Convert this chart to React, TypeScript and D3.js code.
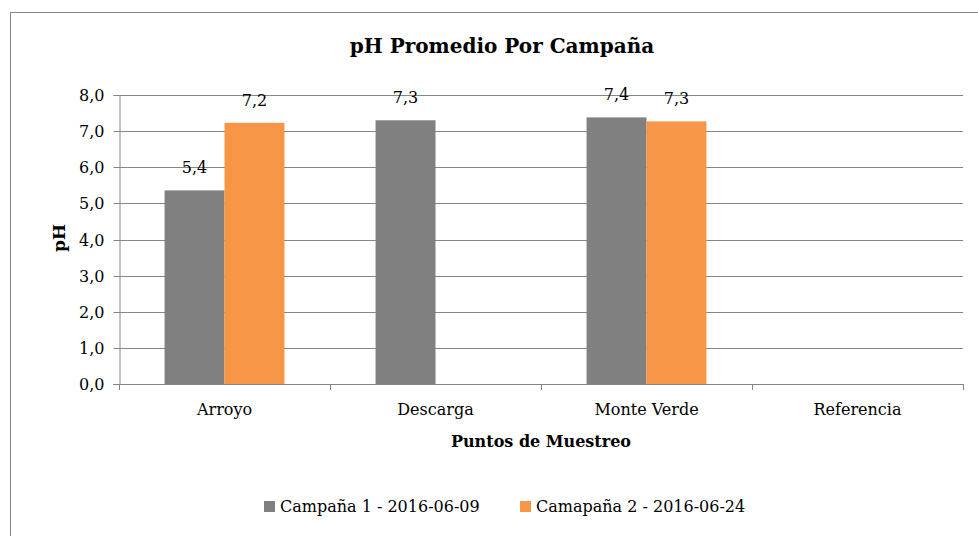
import React, { useRef, useEffect } from 'react';
import * as d3 from 'd3';

const categories = ['Arroyo', 'Descarga', 'Monte Verde', 'Referencia'];
const seriesNames = ['Campaña 1 - 2016-06-09', 'Camapaña 2 - 2016-06-24'];
const campana1 = [5.36, 7.3, 7.38, null];
const campana2 = [7.23, null, 7.27, null];
const yTicks = [0, 1, 2, 3, 4, 5, 6, 7, 8];
const colors = ['#808080', '#F79646'];

const FONT = '"DejaVu Serif", "Liberation Serif", serif';

export default function App() {
    const svgRef = useRef<SVGSVGElement>(null);

    useEffect(() => {
        if (!svgRef.current) return;
        const svg = d3.select(svgRef.current);
        svg.selectAll('*').remove();

        const width = 978;
        const height = 536;
        const plot = { left: 119, right: 963, top: 95, bottom: 384 };
        const fmt = (v: number) => d3.format('.1f')(v).replace('.', ',');

        // chart frame (runs past the right/bottom edge like the original crop)
        svg.append('rect')
            .attr('x', 10.5).attr('y', 12.5)
            .attr('width', width + 20).attr('height', height + 20)
            .attr('fill', '#fff')
            .attr('stroke', '#868686')
            .attr('stroke-width', 1);

        const x0 = d3.scaleBand<string>()
            .domain(categories)
            .range([plot.left, plot.right])
            .paddingInner(0)
            .paddingOuter(0);

        const x1 = d3.scaleBand<string>()
            .domain(seriesNames)
            .range([0, x0.bandwidth()])
            .paddingInner(0)
            .paddingOuter(0.76);

        const y = d3.scaleLinear().domain([0, 8]).range([plot.bottom, plot.top]);

        // gridlines
        svg.append('g')
            .selectAll('line')
            .data(yTicks.slice(1))
            .enter()
            .append('line')
            .attr('x1', plot.left).attr('x2', plot.right)
            .attr('y1', d => Math.round(y(d)) + 0.5)
            .attr('y2', d => Math.round(y(d)) + 0.5)
            .attr('stroke', '#868686')
            .attr('stroke-width', 1);

        // y axis
        const yAxis = d3.axisLeft(y)
            .tickValues(yTicks)
            .tickSize(6)
            .tickFormat(d => fmt(d as number));
        const yG = svg.append('g')
            .attr('transform', `translate(${plot.left + 0.5},0)`)
            .call(yAxis);
        yG.attr('font-family', FONT).attr('font-size', 16);
        yG.selectAll('.domain').attr('stroke', '#868686');
        yG.selectAll('.tick line').attr('stroke', '#868686');
        yG.selectAll('.tick').attr('transform', d => `translate(0,${Math.round(y(d as number)) + 0.5})`);
        yG.selectAll('text')
            .attr('x', -15)
            .attr('fill', '#000');

        // bars
        const rows = categories.map((c, i) => ({ cat: c, vals: [campana1[i], campana2[i]] }));
        const groups = svg.append('g')
            .selectAll('g')
            .data(rows)
            .enter()
            .append('g')
            .attr('transform', d => `translate(${x0(d.cat)},0)`);

        const cells = groups.selectAll('g')
            .data(d => d.vals.map((v, j) => ({ v, s: seriesNames[j], j })).filter(e => e.v !== null))
            .enter()
            .append('g');

        cells.append('rect')
            .attr('x', d => x1(d.s) as number)
            .attr('width', x1.bandwidth())
            .attr('y', d => y(d.v as number))
            .attr('height', d => y(0) - y(d.v as number))
            .attr('fill', d => colors[d.j]);

        cells.append('text')
            .attr('x', d => (x1(d.s) as number) + x1.bandwidth() / 2)
            .attr('y', d => y(d.v as number) - 17)
            .attr('text-anchor', 'middle')
            .attr('font-family', FONT)
            .attr('font-size', '16px')
            .attr('fill', '#000')
            .text(d => fmt(d.v as number));

        // x axis
        const xAxisG = svg.append('g');
        xAxisG.append('line')
            .attr('x1', plot.left - 6).attr('x2', plot.right)
            .attr('y1', plot.bottom + 0.5).attr('y2', plot.bottom + 0.5)
            .attr('stroke', '#868686');
        const xEdges = categories.map(c => x0(c) as number).concat([plot.right]);
        xAxisG.selectAll('.xtick')
            .data(xEdges)
            .enter()
            .append('line')
            .attr('x1', d => Math.round(d) + 0.5).attr('x2', d => Math.round(d) + 0.5)
            .attr('y1', plot.bottom).attr('y2', plot.bottom + 6)
            .attr('stroke', '#868686');
        xAxisG.selectAll('.xlabel')
            .data(categories)
            .enter()
            .append('text')
            .attr('x', d => (x0(d) as number) + x0.bandwidth() / 2)
            .attr('y', 415)
            .attr('text-anchor', 'middle')
            .attr('font-family', FONT)
            .attr('font-size', '16px')
            .attr('fill', '#000')
            .text(d => d);

        // titles
        svg.append('text')
            .attr('x', 502).attr('y', 53)
            .attr('text-anchor', 'middle')
            .attr('font-family', FONT)
            .attr('font-size', '20px')
            .attr('font-weight', 'bold')
            .text('pH Promedio Por Campaña');

        svg.append('text')
            .attr('x', 541).attr('y', 447)
            .attr('text-anchor', 'middle')
            .attr('font-family', FONT)
            .attr('font-size', '16px')
            .attr('font-weight', 'bold')
            .text('Puntos de Muestreo');

        svg.append('text')
            .attr('transform', 'translate(65,238) rotate(-90)')
            .attr('text-anchor', 'middle')
            .attr('font-family', FONT)
            .attr('font-size', '17px')
            .attr('font-weight', 'bold')
            .text('pH');

        // legend
        const legendX = [264, 520];
        const legend = svg.append('g')
            .selectAll('g')
            .data(seriesNames)
            .enter()
            .append('g')
            .attr('transform', (d, i) => `translate(${legendX[i]},501)`);
        legend.append('rect')
            .attr('width', 11).attr('height', 11)
            .attr('fill', (d, i) => colors[i]);
        legend.append('text')
            .attr('x', 16).attr('y', 11)
            .attr('font-family', FONT)
            .attr('font-size', '16px')
            .attr('fill', '#000')
            .text(d => d);
    }, []);

    return (
        <svg
            ref={svgRef}
            width={978}
            height={536}
            style={{ position: 'absolute', left: 0, top: 0, display: 'block', background: '#fff' }}
        />
    );
}
